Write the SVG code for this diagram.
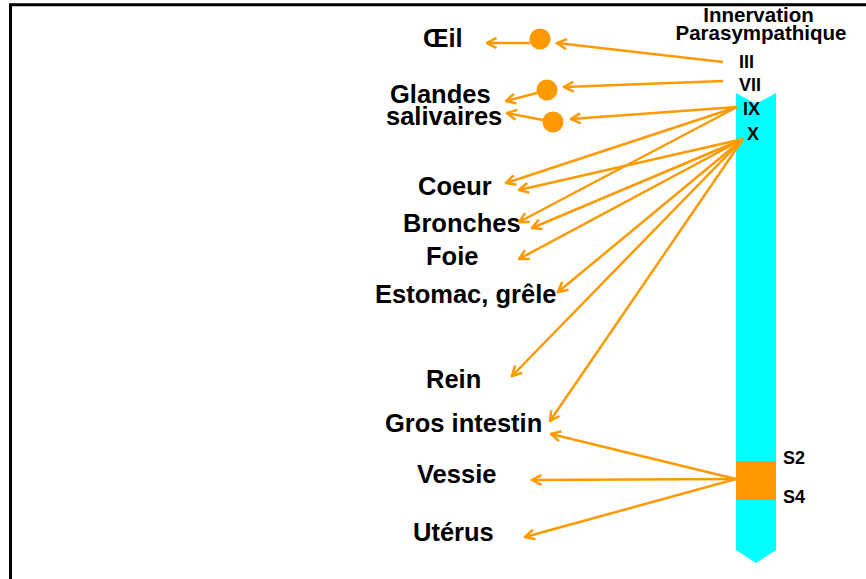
<svg xmlns="http://www.w3.org/2000/svg" width="866" height="579" viewBox="0 0 866 579">
<style>
.t{font-family:"Liberation Sans",Arial,sans-serif;font-weight:bold;fill:#000}
.big{font-size:25.5px}
.num{font-size:18px}
.hd{font-size:20.5px}
.c{stroke:#FF9900;stroke-width:2.5;fill:none;marker-end:url(#ah)}
.dot{fill:#FF9900}
</style>
<defs>
<marker id="ah" markerUnits="userSpaceOnUse" viewBox="0 0 12 12" markerWidth="12" markerHeight="12" refX="10.5" refY="6" orient="auto">
<path d="M1,1 L10.5,6 L1,11" fill="none" stroke="#FF9900" stroke-width="2.5"/>
</marker>
</defs>
<rect width="866" height="579" fill="#fff"/>
<path d="M10.5,579 V4.8 H866" fill="none" stroke="#000" stroke-width="3"/>
<g id="moelle">
<path d="M736,93 L756,104 L776,93 V550 L756,563 L736,550 Z" fill="#00FFFF"/>
<rect x="736" y="461" width="40" height="39" fill="#FF9900"/>
</g>
<g id="header">
<text class="t hd" x="758.5" y="22" text-anchor="middle">Innervation</text>
<text class="t hd" x="761" y="40" text-anchor="middle">Parasympathique</text>
</g>
<g id="nerfs">
<text class="t num" x="739" y="68">III</text>
<text class="t num" x="739" y="91">VII</text>
<text class="t num" x="743" y="115">IX</text>
<text class="t num" x="747" y="140">X</text>
<text class="t num" x="783" y="464">S2</text>
<text class="t num" x="783" y="503">S4</text>
</g>
<g id="ganglions">
<circle class="dot" cx="540" cy="39" r="10.5"/>
<circle class="dot" cx="547" cy="90" r="10.5"/>
<circle class="dot" cx="553" cy="122" r="10.5"/>
</g>
<g id="organes">
<text class="t big" x="423" y="47">Œil</text>
<text class="t big" x="390" y="103">Glandes</text>
<text class="t big" x="386" y="125">salivaires</text>
<text class="t big" x="418" y="195">Coeur</text>
<text class="t big" x="403" y="232">Bronches</text>
<text class="t big" x="426" y="265">Foie</text>
<text class="t big" x="375" y="303">Estomac, grêle</text>
<text class="t big" x="426" y="388">Rein</text>
<text class="t big" x="385" y="432">Gros intestin</text>
<text class="t big" x="417" y="483">Vessie</text>
<text class="t big" x="413" y="541">Utérus</text>
</g>
<g id="connecteurs">
<line class="c" x1="723" y1="62" x2="557" y2="43"/>
<line class="c" x1="530" y1="43" x2="487" y2="43"/>
<line class="c" x1="723" y1="81" x2="564" y2="87"/>
<line class="c" x1="537" y1="93" x2="506" y2="101"/>
<line class="c" x1="737" y1="107" x2="571" y2="119"/>
<line class="c" x1="543" y1="120" x2="507" y2="113"/>
<line class="c" x1="737" y1="107" x2="506" y2="183"/>
<line class="c" x1="737" y1="107" x2="519" y2="222"/>
<line class="c" x1="743" y1="139" x2="519" y2="190"/>
<line class="c" x1="743" y1="139" x2="532" y2="228"/>
<line class="c" x1="743" y1="139" x2="519" y2="259"/>
<line class="c" x1="743" y1="139" x2="558" y2="292"/>
<line class="c" x1="743" y1="139" x2="512" y2="376"/>
<line class="c" x1="743" y1="139" x2="550" y2="421"/>
<line class="c" x1="736" y1="479" x2="551" y2="434"/>
<line class="c" x1="736" y1="479" x2="532" y2="480"/>
<line class="c" x1="736" y1="479" x2="525" y2="537"/>
</g>
</svg>
